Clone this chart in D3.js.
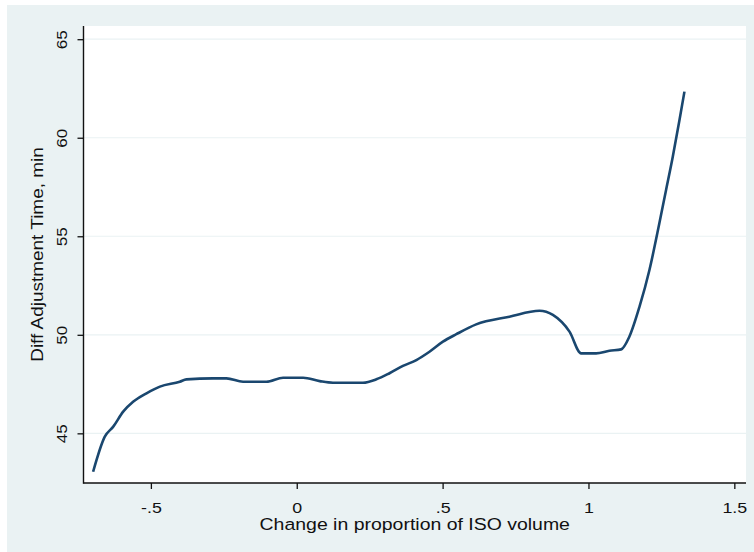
<!DOCTYPE html>
<html>
<head>
<meta charset="utf-8">
<script src="https://cdn.jsdelivr.net/npm/d3@7"></script>
<style>
  html, body { margin: 0; padding: 0; background: #ffffff; }
  svg { display: block; }
  text { font-family: "Liberation Sans", Arial, sans-serif; fill: #111; }
</style>
</head>
<body>
<svg id="chart" width="754" height="552"></svg>
<script>
// Change in ISO volume proportion vs. difference in adjustment time
const xValues = [-0.698, -0.658, -0.629, -0.595, -0.561, -0.515, -0.469, -0.401, -0.378, -0.287,
  -0.241, -0.184, -0.104, -0.047, 0.022, 0.079, 0.124, 0.227, 0.273, 0.318,
  0.364, 0.410, 0.455, 0.501, 0.547, 0.615, 0.729, 0.832, 0.878, 0.935,
  0.975, 1.026, 1.072, 1.112, 1.140, 1.175, 1.209, 1.243, 1.266, 1.289,
  1.312, 1.329];
const yValues = [43.05, 44.83, 45.34, 46.10, 46.60, 47.03, 47.37, 47.62, 47.74, 47.79,
  47.79, 47.62, 47.62, 47.82, 47.82, 47.65, 47.57, 47.57, 47.74, 48.05,
  48.42, 48.72, 49.14, 49.65, 50.03, 50.53, 50.92, 51.22, 51.01, 50.16,
  49.06, 49.06, 49.19, 49.26, 49.90, 51.43, 53.29, 55.66, 57.35, 59.04,
  60.90, 62.34];
const xTicks = [-0.5, 0, 0.5, 1, 1.5];
const xTickLabels = ["-.5", "0", ".5", "1", "1.5"];
const yTicks = [45, 50, 55, 60, 65];
const xTitle = "Change in proportion of ISO volume";
const yTitle = "Diff Adjustment Time, min";

const svg = d3.select("#chart");
const plot = { left: 83.5, right: 746, top: 26, bottom: 483 };

// Outer graph region
svg.append("rect").attr("x", 7).attr("y", 5).attr("width", 747).attr("height", 547)
  .attr("fill", "#eaf2f3");
// Plot region
svg.append("rect").attr("x", plot.left).attr("y", plot.top)
  .attr("width", plot.right - plot.left).attr("height", plot.bottom - plot.top)
  .attr("fill", "#ffffff");

const x = d3.scaleLinear().domain([-0.731, 1.54]).range([plot.left, plot.right]);
const y = d3.scaleLinear().domain([42.48, 65.67]).range([plot.bottom, plot.top]);

// Horizontal grid lines
svg.append("g").selectAll("line").data(yTicks).join("line")
  .attr("x1", plot.left).attr("x2", plot.right)
  .attr("y1", d => y(d)).attr("y2", d => y(d))
  .attr("stroke", "#eaf2f3").attr("stroke-width", 1.2);

// Y axis
const yAxis = svg.append("g").attr("transform", `translate(${plot.left},0)`)
  .call(d3.axisLeft(y).tickValues(yTicks).tickSize(6).tickSizeOuter(0).tickFormat(d3.format("d")));
yAxis.select(".domain").remove();
yAxis.selectAll(".tick line").attr("stroke", "#111").attr("stroke-width", 1.3);
yAxis.selectAll(".tick text")
  .attr("x", 0).attr("dy", 0)
  .attr("transform", "translate(-17,0) rotate(-90) scale(1.1,1)")
  .attr("text-anchor", "middle")
  .style("font-size", "15.5px")
  .style("font-family", "'Liberation Sans', Arial, sans-serif")
  .attr("fill", "#111");

// X axis
const xAxis = svg.append("g").attr("transform", `translate(0,${plot.bottom})`)
  .call(d3.axisBottom(x).tickValues(xTicks).tickSize(6).tickSizeOuter(0)
    .tickFormat((d, i) => xTickLabels[i]));
xAxis.select(".domain").remove();
xAxis.selectAll(".tick line").attr("stroke", "#111").attr("stroke-width", 1.3);
xAxis.selectAll(".tick text")
  .attr("y", 0).attr("dy", 0)
  .attr("transform", "translate(0,30) scale(1.15,1)")
  .style("font-size", "15.5px")
  .style("font-family", "'Liberation Sans', Arial, sans-serif")
  .attr("fill", "#111");

// Axis lines
svg.append("line").attr("x1", plot.left).attr("x2", plot.left)
  .attr("y1", plot.top).attr("y2", plot.bottom + 0.7)
  .attr("stroke", "#111").attr("stroke-width", 1.4);
svg.append("line").attr("x1", plot.left).attr("x2", plot.right)
  .attr("y1", plot.bottom).attr("y2", plot.bottom)
  .attr("stroke", "#111").attr("stroke-width", 1.4);

// Fitted curve
const pts = xValues.map((v, i) => [v, yValues[i]]);
svg.append("path").datum(pts)
  .attr("fill", "none").attr("stroke", "#1a476f").attr("stroke-width", 2.6)
  .attr("stroke-linejoin", "round").attr("stroke-linecap", "butt")
  .attr("d", d3.line().x(d => x(d[0])).y(d => y(d[1])).curve(d3.curveMonotoneX));

// Axis titles
svg.append("text")
  .attr("transform", `translate(${(plot.left + plot.right) / 2},530) scale(1.18,1)`)
  .attr("text-anchor", "middle").style("font-size", "16.5px").text(xTitle);
svg.append("text")
  .attr("transform", `translate(43,${(plot.top + plot.bottom) / 2}) rotate(-90) scale(1.15,1)`)
  .attr("text-anchor", "middle").style("font-size", "16.5px").text(yTitle);
</script>
</body>
</html>
